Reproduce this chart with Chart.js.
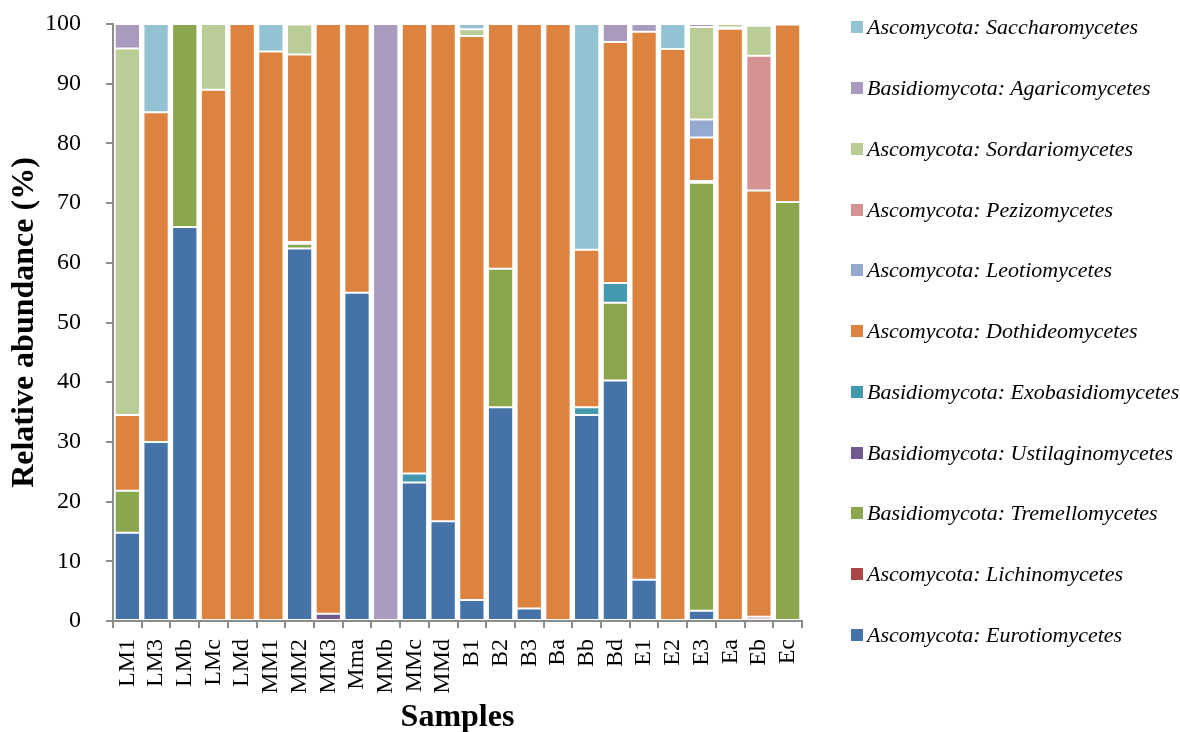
<!DOCTYPE html>
<html lang="en">
<head>
    <meta charset="UTF-8">
    <title>Relative abundance by sample</title>
    <style>
        body { margin: 0; background: #fff; }
        #wrap { position: relative; width: 1180px; height: 732px; }
        #legend {
            position: absolute; left: 851px; top: -3px;
            font-family: "Liberation Serif", "Times New Roman", serif;
            font-style: italic; font-size: 22px; color: #000;
        }
        .item { height: 60.75px; display: flex; align-items: center; white-space: nowrap; }
        .box { width: 12px; height: 12px; margin-right: 4px; }
    </style>
    <script src="https://cdn.jsdelivr.net/npm/chart.js@4/dist/chart.umd.min.js"></script>
</head>
<body>
<div id="wrap">
    <canvas id="abundance" width="1180" height="732"></canvas>
    <div id="legend"></div>
</div>
<script>
    const samples = ["LM1", "LM3", "LMb", "LMc", "LMd", "MM1", "MM2", "MM3", "Mma", "MMb", "MMc", "MMd",
                     "B1", "B2", "B3", "Ba", "Bb", "Bd", "E1", "E2", "E3", "Ea", "Eb", "Ec"];
    const yTicks = [0, 10, 20, 30, 40, 50, 60, 70, 80, 90, 100];

    // bottom of the stack first
    const eurotio   = [14.8, 30.0, 66.0, 0, 0, 0, 62.4, 0, 55.0, 0, 23.2, 16.7, 3.5, 35.8, 2.1, 0, 34.5, 40.3, 6.9, 0, 1.7, 0, 0.3, 0];
    const lichino   = [0, 0, 0, 0, 0, 0, 0, 0, 0, 0, 0, 0, 0, 0, 0, 0, 0, 0, 0, 0, 0, 0, 0.4, 0];
    const tremello  = [7.0, 0, 34.0, 0, 0, 0, 0.8, 0, 0, 0, 0, 0, 0, 23.2, 0, 0, 0, 13.0, 0, 0, 71.7, 0, 0, 70.2];
    const ustilago  = [0, 0, 0, 0, 0, 0, 0, 1.2, 0, 0, 0, 0, 0, 0, 0, 0, 0, 0, 0, 0, 0, 0, 0, 0];
    const exobasid  = [0, 0, 0, 0, 0, 0, 0.3, 0, 0, 0, 1.5, 0, 0, 0, 0, 0, 1.3, 3.3, 0, 0, 0.3, 0, 0, 0];
    const dothideo  = [12.7, 55.2, 0, 89.0, 100, 95.4, 31.4, 98.8, 45.0, 0, 75.3, 83.3, 94.5, 41.0, 97.9, 100, 26.4, 40.4, 91.8, 95.8, 7.3, 99.2, 71.4, 29.7];
    const leotio    = [0, 0, 0, 0, 0, 0, 0, 0, 0, 0, 0, 0, 0, 0, 0, 0, 0, 0, 0, 0, 3.0, 0, 0, 0];
    const pezizo    = [0, 0, 0, 0, 0, 0, 0, 0, 0, 0, 0, 0, 0, 0, 0, 0, 0, 0, 0, 0, 0, 0.2, 22.6, 0.1];
    const sordario  = [61.4, 0, 0, 11.0, 0, 0, 5.0, 0, 0, 0, 0, 0, 1.1, 0, 0, 0, 0, 0, 0, 0, 15.5, 0.6, 5.0, 0];
    const agarico   = [4.1, 0, 0, 0, 0, 0, 0, 0, 0, 100, 0, 0, 0, 0, 0, 0, 0, 3.0, 1.3, 0, 0.5, 0, 0, 0];
    const saccharo  = [0, 14.8, 0, 0, 0, 4.6, 0.1, 0, 0, 0, 0, 0, 0.9, 0, 0, 0, 37.8, 0, 0, 4.2, 0, 0, 0.3, 0];

    const series = [
        ["Ascomycota: Eurotiomycetes", eurotio, "#4573a7"],
        ["Ascomycota: Lichinomycetes", lichino, "#aa4644"],
        ["Basidiomycota: Tremellomycetes", tremello, "#8ba74e"],
        ["Basidiomycota: Ustilaginomycetes", ustilago, "#71588f"],
        ["Basidiomycota: Exobasidiomycetes", exobasid, "#4599ae"],
        ["Ascomycota: Dothideomycetes", dothideo, "#dc843f"],
        ["Ascomycota: Leotiomycetes", leotio, "#95a8cf"],
        ["Ascomycota: Pezizomycetes", pezizo, "#d49392"],
        ["Ascomycota: Sordariomycetes", sordario, "#bbcd97"],
        ["Basidiomycota: Agaricomycetes", agarico, "#a99bbd"],
        ["Ascomycota: Saccharomycetes", saccharo, "#93c3d3"]
    ];

    const serif = "'Liberation Serif', 'Times New Roman', serif";
    const axisGray = "#8c8c8c";

    const datasets = series.map(([label, data, color]) => ({
        label: label,
        data: data,
        backgroundColor: color,
        borderColor: "rgba(255,255,255,0.22)",
        borderWidth: 1,
        borderSkipped: false,
        barPercentage: 0.88,
        categoryPercentage: 1.0
    }));

    new Chart(document.getElementById("abundance").getContext("2d"), {
        type: "bar",
        data: { labels: samples, datasets: datasets },
        options: {
            responsive: false,
            animation: false,
            layout: { padding: { top: 24, right: 378, left: 0, bottom: 0 } },
            plugins: { legend: { display: false }, tooltip: { enabled: false } },
            scales: {
                x: {
                    stacked: true,
                    afterFit: s => { s.height = 111; },
                    border: { color: axisGray, width: 2 },
                    grid: { offset: true, drawOnChartArea: false, drawTicks: true, tickLength: 7, color: axisGray, lineWidth: 2 },
                    ticks: {
                        color: "#000", font: { family: serif, size: 24 },
                        minRotation: 90, maxRotation: 90, padding: 11, autoSkip: false
                    },
                    title: {
                        display: true, text: "Samples", color: "#000",
                        font: { family: serif, size: 32, weight: "bold", lineHeight: 0.9 },
                        padding: { top: 0, bottom: 0 }
                    }
                },
                y: {
                    stacked: true,
                    min: 0, max: 100,
                    // wide tick padding would otherwise push the plot top down
                    afterFit: s => { s.width = 113; s.paddingTop = 0; s.paddingBottom = 0; },
                    afterBuildTicks: s => { s.ticks = yTicks.map(v => ({ value: v })); },
                    border: { color: axisGray, width: 2 },
                    grid: { drawOnChartArea: false, drawTicks: true, tickLength: 7, color: axisGray, lineWidth: 2 },
                    ticks: { color: "#000", font: { family: serif, size: 24 }, padding: 25 },
                    title: {
                        display: true, text: "Relative abundance (%)", color: "#000",
                        font: { family: serif, size: 32, weight: "bold", lineHeight: 0.9 },
                        padding: { top: 10, bottom: 0 }
                    }
                }
            }
        }
    });

    // legend, top entry is the top of the stack
    const legend = document.getElementById("legend");
    series.slice().reverse().forEach(([label, , color]) => {
        const item = document.createElement("div");
        item.className = "item";
        const box = document.createElement("span");
        box.className = "box";
        box.style.background = color;
        const text = document.createElement("span");
        text.textContent = label;
        item.appendChild(box);
        item.appendChild(text);
        legend.appendChild(item);
    });
</script>
</body>
</html>
